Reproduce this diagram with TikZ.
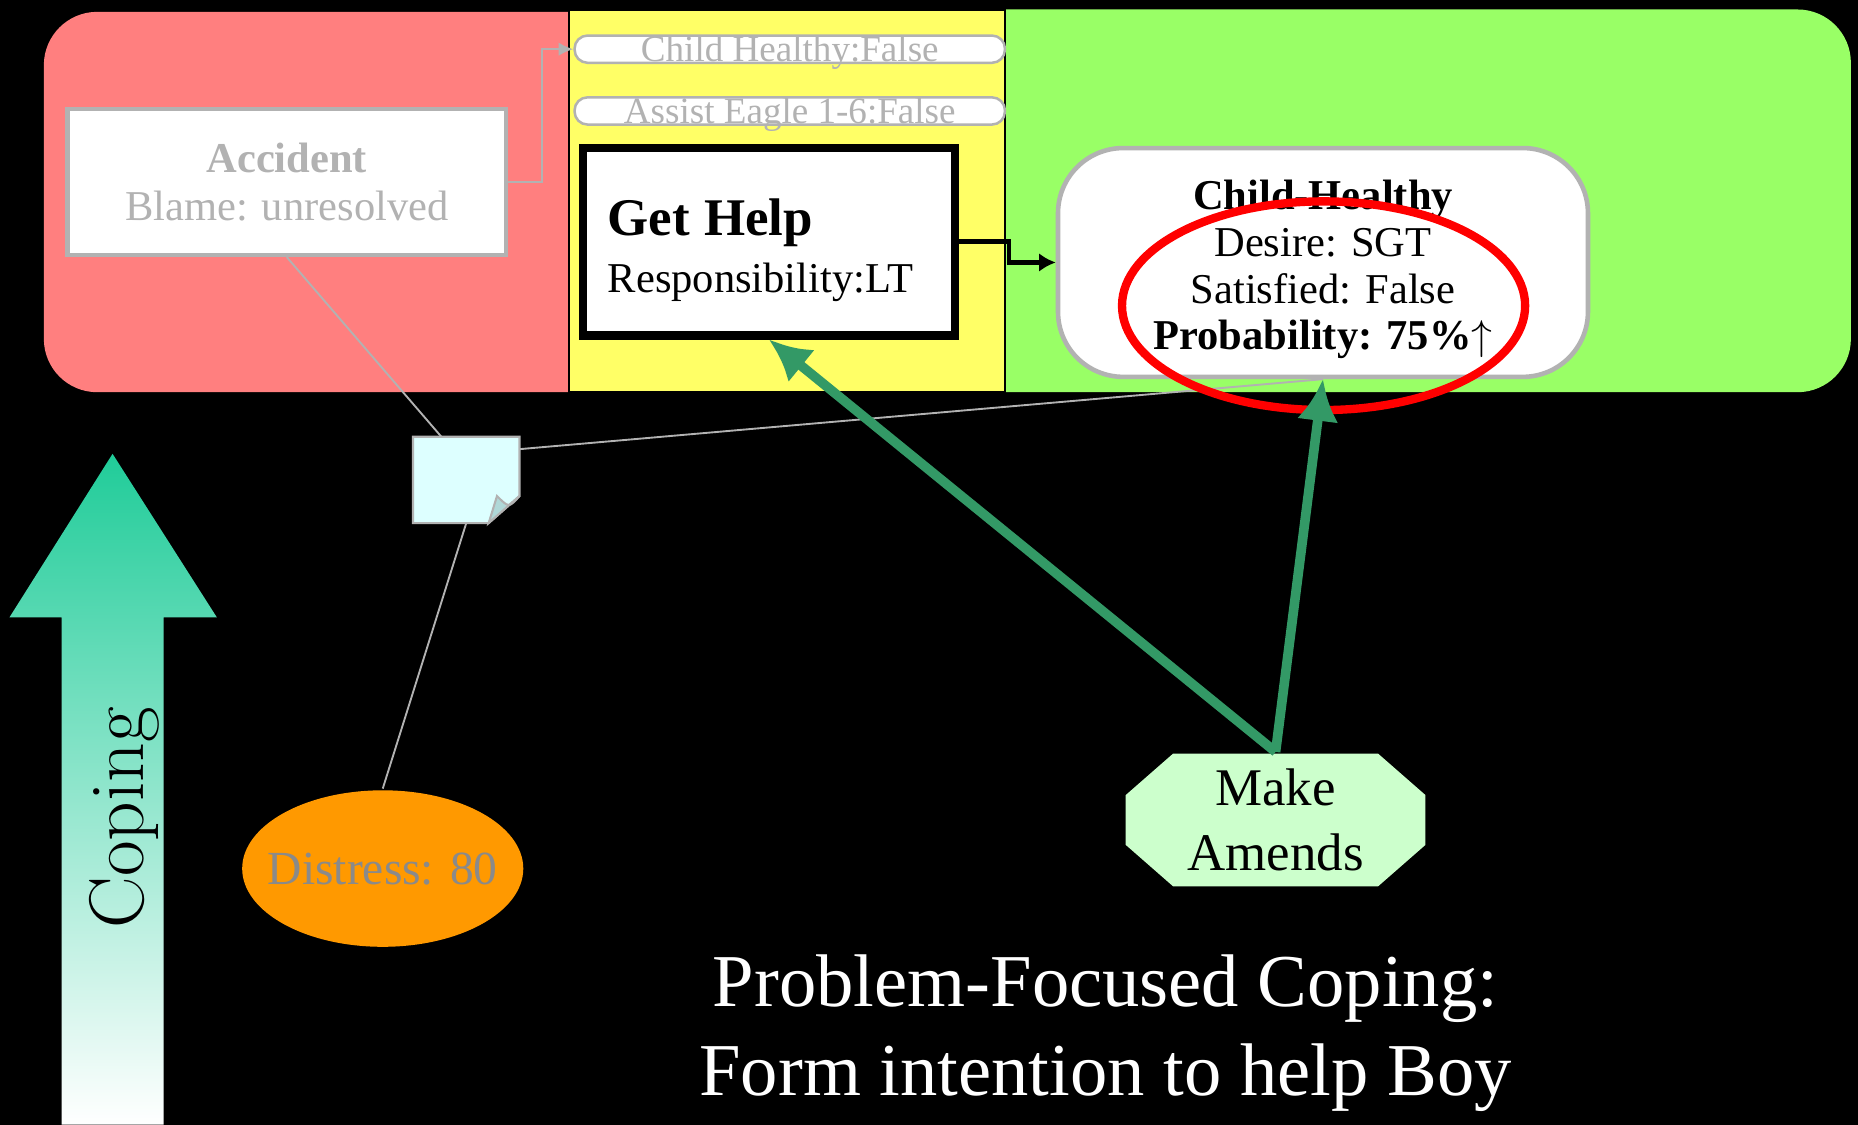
\documentclass[tikz,border=0pt]{standalone}
\usepackage{fontspec}
\usetikzlibrary{arrows.meta, positioning, shapes.geometric}
\newfontfamily\tnr{Liberation Serif}

\definecolor{zoneRed}{HTML}{FF7F7F}
\definecolor{zoneYellow}{HTML}{FFFF66}
\definecolor{zoneGreen}{HTML}{99FF66}
\definecolor{softGray}{HTML}{B2B2B2}
\definecolor{distGray}{HTML}{8A8A8A}
\definecolor{distOrange}{HTML}{FF9900}
\definecolor{amendsFill}{HTML}{CCFFCC}
\definecolor{pushGreen}{HTML}{339966}
\definecolor{noteFill}{HTML}{DDFFFF}
\definecolor{noteFold}{HTML}{B0D8D8}
\definecolor{copeTeal}{HTML}{20CC99}

\begin{document}
\begin{tikzpicture}[
    x=0.01cm, y=-0.01cm,      % one unit = one pixel of the slide, y going down
    >=latex,
    thick
  ]

  %--- Styles for the boxes and links ---
  \tikzset{
    stateBox/.style  ={rectangle, draw=softGray, line width=1.1pt, fill=white,
    inner sep=0pt, align=center, text=softGray,
    font=\tnr\fontsize{10.2}{11.4}\selectfont},
    pill/.style      ={rectangle, draw=softGray, line width=0.6pt, fill=white,
    rounded corners=0.11cm, minimum width=3.63cm, inner sep=0pt,
    text height=0.22cm, text depth=0.01cm, text=softGray,
    font=\tnr\fontsize{8.9}{10}\selectfont},
    actionBox/.style ={rectangle, draw=black, line width=2pt, fill=white,
    inner xsep=0.21cm, inner ysep=0pt, text width=2.72cm, align=left,
    minimum height=1.58cm, font=\tnr\fontsize{10.2}{13.7}\selectfont},
    goalBox/.style   ={rectangle, draw=softGray, line width=1.1pt, fill=white,
    rounded corners=0.55cm, minimum width=4.47cm, minimum height=1.93cm,
    inner sep=0pt, align=center, font=\tnr\fontsize{10.2}{11.2}\selectfont},
    ringMark/.style  ={ellipse, draw=red, line width=2pt, minimum width=3.4cm,
    minimum height=1.76cm, inner sep=0pt},
    noteBox/.style   ={rectangle, minimum width=0.87cm, minimum height=0.7cm,
    inner sep=0pt},
    distressNode/.style={ellipse, fill=distOrange, minimum width=2.32cm,
    minimum height=1.32cm, inner xsep=-0.13cm, inner ysep=0pt, text=distGray,
    font=\tnr\fontsize{11.4}{12}\selectfont},
    amendsBox/.style ={rectangle, minimum width=2.53cm, minimum height=1.12cm,
    inner sep=0pt, align=center, font=\tnr\fontsize{12.7}{15.4}\selectfont},
    grayLink/.style  ={draw=softGray, line width=0.45pt},
    grayArrow/.style ={draw=softGray, line width=0.5pt,
    -{Latex[length=3.5pt,width=3.2pt]}},
    stepLink/.style  ={draw=black, line width=1.1pt,
    -{Latex[length=4pt,width=4.5pt]}},
    pushArrow/.style ={draw=pushGreen, line width=2.3pt,
    -{Latex[length=10pt,width=10pt]}},
  }

  \useasboundingbox (0,0) rectangle (1568,949);
  \fill[black] (0,0) rectangle (1568,949);

  %------------------------------------------------------------------------------
  % 1) The three coloured bands at the top
  %------------------------------------------------------------------------------
  \fill[zoneRed, rounded corners=0.45cm] (37,10) rectangle (540,331);
  \fill[zoneGreen, rounded corners=0.45cm] (800,8) rectangle (1562,331);
  \filldraw[fill=zoneYellow, draw=black, line width=0.6pt] (480,8) rectangle (848,331);

  %------------------------------------------------------------------------------
  % 2) Nodes in the bands
  %------------------------------------------------------------------------------
  \node[stateBox, minimum width=3.7cm, minimum height=1.23cm] (accident) at (242,153.5)
  {\textbf{Accident}\\Blame: unresolved};

  \node[pill] (childPill) at (666.5,41.5) {Child Healthy:False};
  \node[pill] (assistPill) [below=0.27cm of childPill] {Assist Eagle 1-6:False};

  \node[actionBox] (getHelp) at (649,204)
  {{\fontsize{12.7}{13.7}\selectfont\bfseries\rule{0pt}{12.9pt}Get Help}\\Responsibility:LT};

  \node[goalBox] (childHealthy) at (1116.5,221.5)
  {\rule{0pt}{10.6pt}\textbf{Child-Healthy}\\Desire: SGT\\Satisfied: False\\
  \textbf{Probability: 75\%}$\uparrow$};

  %------------------------------------------------------------------------------
  % 3) Note, distress and the coping action
  %------------------------------------------------------------------------------
  \node[noteBox] (note) at (393.5,405) {};
  \filldraw[fill=noteFill, draw=softGray, line width=0.5pt]
  (note.north west) -- (note.north east) -- ([yshift=-0.5cm]note.north east)
  -- ([xshift=-0.26cm]note.south east) -- (note.south west) -- cycle;
  \filldraw[fill=noteFold, draw=softGray, line width=0.5pt]
  ([yshift=-0.5cm]note.north east)
  .. controls ([xshift=-0.09cm,yshift=-0.6cm]note.north east) ..
  ([xshift=-0.19cm,yshift=-0.5cm]note.north east)
  -- ([xshift=-0.26cm]note.south east) -- cycle;

  \node[distressNode] (distress) at (323,733) {Distress: 80};

  \fill[amendsFill] (990,636) -- (1163,636) -- (1203,671) -- (1203,713)
  -- (1163,748) -- (990,748) -- (950,713) -- (950,671) -- cycle;
  \node[amendsBox] (amends) at (1076.5,692) {Make\\Amends};

  % Coping block arrow
  \shade[top color=copeTeal, middle color=copeTeal!38, bottom color=white]
  (95,383) -- (183,521) -- (138,521) -- (138,949) -- (52,949) -- (52,521)
  -- (8,521) -- cycle;
  \node[rotate=90, inner sep=0pt, font=\fontsize{18.6}{20}\selectfont] (coping)
  at (105,690) {Coping};

  \node[text=white, align=center, font=\tnr\fontsize{17.9}{21.3}\selectfont]
  (caption) at (933,872) {Problem-Focused Coping:\\Form intention to help Boy};

  %------------------------------------------------------------------------------
  % Links
  %------------------------------------------------------------------------------
  \draw[grayArrow] (accident.east) -- ++(28,0) |- (childPill.west);
  \draw[stepLink] (getHelp.east) -- ++(42,0) |- (childHealthy.west);

  \draw[grayLink] (accident.south) -- (note.120);
  \draw[grayLink] (note.30) -- (childHealthy.south);
  \draw[grayLink] (note.south) -- (distress.north);

  \node[ringMark] (ring) at (1117,258) {};

  \draw[pushArrow] (amends.north) -- (getHelp.south);
  \draw[pushArrow] (amends.north) -- (childHealthy.south);

\end{tikzpicture}
\end{document}
